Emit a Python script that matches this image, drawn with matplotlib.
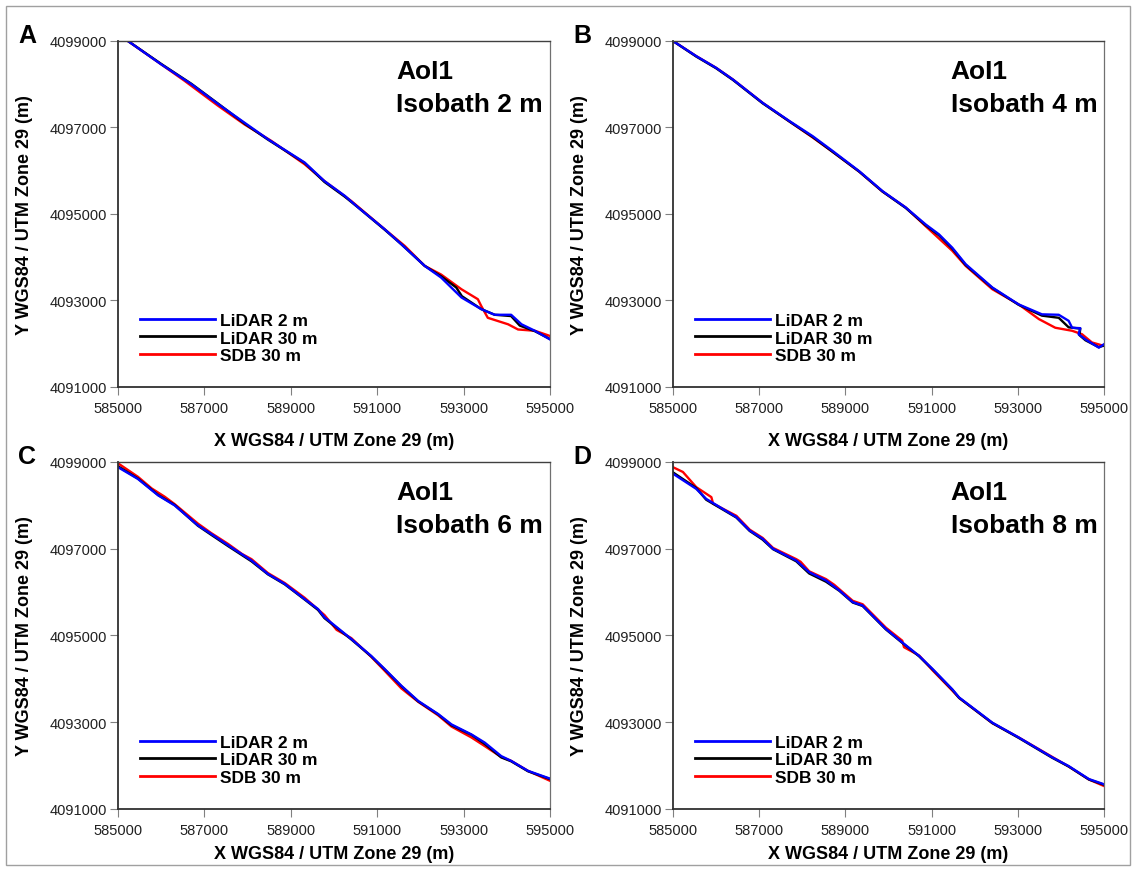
import matplotlib
matplotlib.use("Agg")
import matplotlib.pyplot as plt
from matplotlib.patches import Rectangle

plt.rcParams['font.family'] = ['Liberation Sans', 'DejaVu Sans']

panel_letters = ["A", "B", "C", "D"]
isobaths = ["Isobath 2 m", "Isobath 4 m", "Isobath 6 m", "Isobath 8 m"]
series_labels = ["LiDAR 2 m", "LiDAR 30 m", "SDB 30 m"]

x_ticks = [585000, 587000, 589000, 591000, 593000, 595000]
y_ticks = [4091000, 4093000, 4095000, 4097000, 4099000]

# panel A, isobath 2 m
a_lidar2_x = [585230, 586000, 586700, 587320, 587930, 588470, 589320, 589780, 590250, 590560,
              591170, 591560, 592100, 592480, 592950, 593410, 593720, 594100, 594340, 594650, 595000]
a_lidar2_y = [4099000, 4098460, 4098000, 4097540, 4097110, 4096730, 4096190, 4095760, 4095420, 4095150,
              4094650, 4094300, 4093800, 4093530, 4093070, 4092800, 4092670, 4092670, 4092450, 4092300, 4092100]
a_lidar30_x = [585230, 586000, 586700, 587320, 587930, 588470, 589320, 589780, 590250, 590560,
               591170, 591560, 592100, 592480, 592830, 592960, 593410, 593720, 594100, 594300, 594650, 595000]
a_lidar30_y = [4099000, 4098470, 4098010, 4097550, 4097090, 4096720, 4096180, 4095740, 4095400, 4095150,
               4094640, 4094300, 4093800, 4093560, 4093300, 4093100, 4092800, 4092670, 4092640, 4092420, 4092290, 4092110]
a_sdb30_x = [585230, 586000, 586540, 587320, 587930, 588240, 588550, 589320, 589780, 590400,
             591170, 591640, 592100, 592480, 592950, 593330, 593410, 593560, 594030, 594260, 594650, 595000]
a_sdb30_y = [4099000, 4098460, 4098080, 4097500, 4097070, 4096880, 4096690, 4096150, 4095760, 4095300,
             4094650, 4094260, 4093800, 4093600, 4093260, 4093030, 4092870, 4092600, 4092450, 4092330, 4092300, 4092180]

# panel B, isobath 4 m
b_lidar2_x = [585000, 585540, 586000, 586390, 587080, 587700, 588240, 588700, 589320, 589860,
              590400, 590860, 591170, 591480, 591790, 592410, 593020, 593560, 593950, 594180,
              594260, 594450, 594410, 594570, 594880, 595000]
b_lidar2_y = [4099000, 4098650, 4098380, 4098110, 4097570, 4097150, 4096800, 4096460, 4095990, 4095530,
              4095150, 4094760, 4094530, 4094220, 4093840, 4093300, 4092910, 4092680, 4092670, 4092530,
              4092370, 4092360, 4092220, 4092100, 4091910, 4091990]
b_lidar30_x = [585000, 585540, 586000, 586390, 587080, 587700, 588240, 588700, 589320, 589860,
               590400, 590860, 591170, 591480, 591790, 592410, 593020, 593560, 593950, 594180,
               594450, 594430, 594570, 594880, 595000]
b_lidar30_y = [4099000, 4098640, 4098370, 4098100, 4097560, 4097140, 4096780, 4096440, 4095980, 4095520,
               4095140, 4094740, 4094510, 4094200, 4093820, 4093290, 4092900, 4092650, 4092600, 4092380,
               4092350, 4092200, 4092080, 4091920, 4091960]
b_sdb30_x = [585000, 585540, 586000, 586390, 587080, 587700, 588240, 588700, 589320, 589860,
             590400, 590860, 591480, 591790, 592410, 593020, 593490, 593870, 594260, 594490, 594720, 595000]
b_sdb30_y = [4099000, 4098650, 4098380, 4098110, 4097570, 4097140, 4096770, 4096440, 4095980, 4095520,
             4095150, 4094720, 4094150, 4093800, 4093260, 4092910, 4092570, 4092370, 4092300, 4092220, 4092030, 4091950]

# panel C, isobath 6 m
c_lidar2_x = [585000, 585460, 585930, 586310, 586850, 587160, 587550, 588090, 588470, 588860,
              589320, 589630, 589780, 590400, 590860, 591170, 591560, 591950, 592410, 592720,
              593180, 593490, 593870, 594100, 594490, 595000]
c_lidar2_y = [4098880, 4098610, 4098230, 4098000, 4097540, 4097340, 4097080, 4096730, 4096420, 4096190,
              4095840, 4095610, 4095420, 4094920, 4094530, 4094230, 4093840, 4093490, 4093190, 4092950,
              4092720, 4092530, 4092220, 4092110, 4091880, 4091700]
c_lidar30_x = [585000, 585460, 585930, 586310, 586850, 587160, 587550, 588090, 588470, 588860,
               589320, 589630, 589780, 590400, 590860, 591170, 591560, 591950, 592410, 592720,
               593180, 593490, 593870, 594100, 594490, 595000]
c_lidar30_y = [4098900, 4098620, 4098240, 4098010, 4097530, 4097320, 4097060, 4096710, 4096410, 4096180,
               4095830, 4095590, 4095400, 4094910, 4094520, 4094220, 4093830, 4093480, 4093180, 4092930,
               4092710, 4092500, 4092190, 4092100, 4091870, 4091690]
c_sdb30_x = [585000, 585460, 585780, 586080, 586310, 586850, 587160, 587550, 587870, 588090,
             588470, 588860, 589320, 589780, 590060, 590400, 590860, 591170, 591560, 591950,
             592410, 592720, 593180, 593490, 593870, 594100, 594490, 595000]
c_sdb30_y = [4098970, 4098660, 4098390, 4098200, 4098030, 4097580, 4097360, 4097110, 4096880, 4096760,
             4096440, 4096210, 4095870, 4095470, 4095130, 4094940, 4094510, 4094190, 4093780, 4093470,
             4093160, 4092900, 4092650, 4092450, 4092200, 4092110, 4091880, 4091650]

# panel D, isobath 8 m
d_lidar2_x = [585000, 585540, 585770, 586470, 586780, 587080, 587320, 587860, 588160, 588550,
              588860, 589170, 589400, 589940, 590320, 590710, 591020, 591480, 591640, 592410,
              593020, 593800, 594180, 594650, 595000]
d_lidar2_y = [4098730, 4098380, 4098150, 4097730, 4097420, 4097230, 4097000, 4096730, 4096460, 4096270,
              4096040, 4095770, 4095690, 4095150, 4094840, 4094530, 4094230, 4093760, 4093570, 4092990,
              4092650, 4092190, 4091990, 4091690, 4091570]
d_lidar30_x = [585000, 585540, 585770, 586470, 586780, 587080, 587320, 587860, 588160, 588550,
               588860, 589170, 589400, 589940, 590320, 590710, 591020, 591480, 591640, 592410,
               593020, 593800, 594180, 594650, 595000]
d_lidar30_y = [4098760, 4098400, 4098130, 4097720, 4097410, 4097210, 4096990, 4096710, 4096430, 4096240,
               4096030, 4095760, 4095680, 4095140, 4094830, 4094520, 4094220, 4093750, 4093560, 4092980,
               4092640, 4092180, 4091980, 4091680, 4091560]
d_sdb30_x = [585000, 585230, 585540, 585890, 585930, 586470, 586780, 587080, 587320, 587860,
             587960, 588160, 588550, 588740, 589170, 589400, 589940, 590320, 590360, 590710,
             591020, 591480, 591640, 592410, 593020, 593800, 594180, 594650, 595000]
d_sdb30_y = [4098880, 4098770, 4098420, 4098190, 4098040, 4097760, 4097440, 4097250, 4097020, 4096760,
             4096700, 4096480, 4096300, 4096170, 4095800, 4095720, 4095180, 4094880, 4094730, 4094540,
             4094200, 4093730, 4093560, 4092980, 4092650, 4092200, 4091980, 4091680, 4091530]

panels = [
    (a_lidar2_x, a_lidar2_y, a_lidar30_x, a_lidar30_y, a_sdb30_x, a_sdb30_y),
    (b_lidar2_x, b_lidar2_y, b_lidar30_x, b_lidar30_y, b_sdb30_x, b_sdb30_y),
    (c_lidar2_x, c_lidar2_y, c_lidar30_x, c_lidar30_y, c_sdb30_x, c_sdb30_y),
    (d_lidar2_x, d_lidar2_y, d_lidar30_x, d_lidar30_y, d_sdb30_x, d_sdb30_y),
]

W, H = 1136, 870
fig = plt.figure(figsize=(W / 100, H / 100), dpi=100)
fig.patches.append(Rectangle((6 / W, 4 / H), 1124 / W, 859 / H, transform=fig.transFigure,
                             fill=False, edgecolor="#a0a0a0", linewidth=1.0))

# axes boxes in pixels: left, top, right, bottom
boxes = [(118, 42, 550, 388), (673, 42, 1104, 388), (118, 463, 550, 810), (673, 463, 1104, 810)]

for i, (box, data) in enumerate(zip(boxes, panels)):
    l, t, r, b = box
    ax = fig.add_axes([l / W, 1 - b / H, (r - l) / W, (b - t) / H])
    x2, y2, x30, y30, xs, ys = data
    ps, = ax.plot(xs, ys, color="#ff0000", lw=1.7)
    pk, = ax.plot(x30, y30, color="black", lw=1.7)
    pb, = ax.plot(x2, y2, color="#0000ff", lw=1.7)

    ax.set_xlim(585000, 595000)
    ax.set_ylim(4091000, 4099000)
    ax.set_xticks(x_ticks)
    ax.set_yticks(y_ticks)
    ax.set_xticklabels([str(v) for v in x_ticks])
    ax.set_yticklabels([str(v) for v in y_ticks])
    ax.tick_params(axis='both', direction='out', length=6, width=0.8, color="#808080",
                   labelsize=10.5, labelcolor="#202020")
    ax.tick_params(axis='x', pad=4)
    ax.tick_params(axis='y', pad=2)

    for side in ["left", "bottom"]:
        ax.spines[side].set_color("#303030")
        ax.spines[side].set_linewidth(1.3)
    ax.spines["top"].set_color("#404040")
    ax.spines["top"].set_linewidth(1.0)
    ax.spines["right"].set_color("#707070")
    ax.spines["right"].set_linewidth(0.9)

    ax.set_xlabel("X WGS84 / UTM Zone 29 (m)", fontsize=13, fontweight="bold",
                  labelpad=12 if i < 2 else 6)
    ax.set_ylabel("Y WGS84 / UTM Zone 29 (m)", fontsize=13, fontweight="bold", labelpad=12)

    ax.text(0.644, 0.893, "AoI1", transform=ax.transAxes, fontsize=19, fontweight="bold")
    ax.text(0.644, 0.798, isobaths[i], transform=ax.transAxes, fontsize=19, fontweight="bold")

    fig.text((l - 100) / W, 1 - (t + 1) / H, panel_letters[i], fontsize=18, fontweight="bold")

    leg = ax.legend([pb, pk, ps], series_labels, loc="lower left", bbox_to_anchor=(0.035, 0.05),
                    frameon=False, prop={'size': 12.5, 'weight': 'bold'}, handlelength=4.3,
                    handletextpad=0.3, labelspacing=0.12, borderaxespad=0)
    for h in leg.get_lines():
        h.set_linewidth(2.0)

fig.savefig("out.png", dpi=100)
